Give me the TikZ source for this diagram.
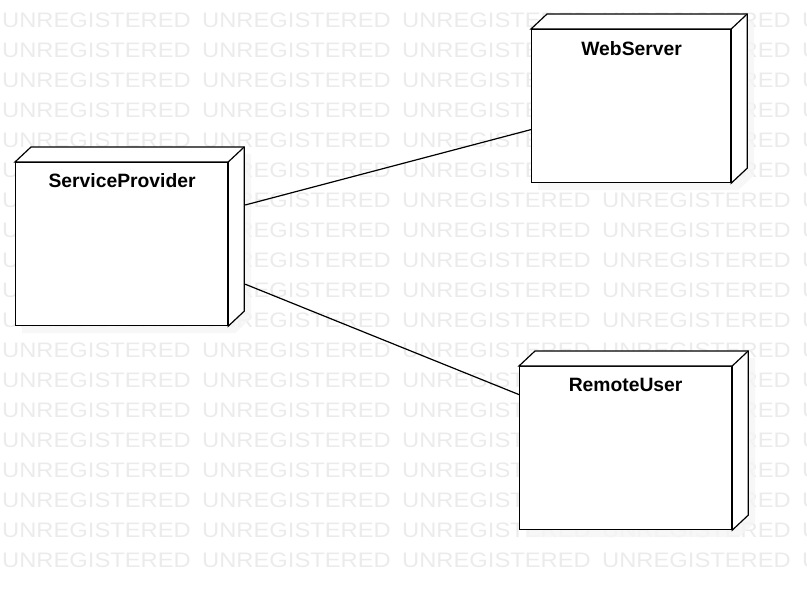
\documentclass[tikz,border=0pt]{standalone}
\usepackage{fontspec}
\setmainfont{Liberation Sans}
\pgfdeclarelayer{wmark}
\pgfdeclarelayer{shade}
\pgfsetlayers{wmark,shade,main}
\begin{document}
\begin{tikzpicture}[x=1pt,y=-1pt,
  devnode/.style={draw,line width=1.2pt,fill=white,anchor=north west,inner sep=0pt},
  faces/.style={draw,line width=1.2pt,fill=white},
  title/.style={inner sep=0pt,font=\fontsize{19.3}{22}\selectfont\bfseries},
  link/.style={draw,line width=1.2pt},
  shade/.style={fill=black!4,opacity=0.8,transform canvas={xshift=7pt,yshift=-7pt}},
  wm/.style={anchor=west,inner sep=0pt,text=black!8,xscale=1.13,font=\fontsize{21}{24}\selectfont}]
\useasboundingbox (0,0) rectangle (807,591);

% watermark
\begin{pgfonlayer}{wmark}
\begin{scope}
\clip (0,0) rectangle (807,591);
\foreach \r in {0,...,18}{
	\foreach \c in {0,...,4}{
		\node[wm] (wm-\r-\c) at (2+200*\c,20.5+30*\r) {UNREGISTERED};}}
\end{scope}
\end{pgfonlayer}

\node[devnode,minimum width=212,minimum height=163] (sp) at (15,162) {};
\node[devnode,minimum width=199,minimum height=153] (ws) at (531,29) {};
\node[devnode,minimum width=212,minimum height=163] (ru) at (519,366) {};

\foreach \n in {sp,ws,ru}{
	\draw[faces] (\n.north west) -- ++(16,-15) -- ([shift={(16,-15)}]\n.north east)
		-- ([shift={(16,-15)}]\n.south east) -- (\n.south east) -- (\n.north east) -- cycle;
	\draw[faces] (\n.north east) -- ++(16,-15);
	\begin{pgfonlayer}{shade}
	\path[shade] (\n.south west) -- (\n.north west) -- ++(16,-15) -- ([shift={(16,-15)}]\n.north east)
		-- ([shift={(16,-15)}]\n.south east) -- (\n.south east) -- cycle;
	\end{pgfonlayer}
}

\node[title] (sp-name) at ([shift={(0.5,18.5)}]sp.north) {ServiceProvider};
\node[title] (ws-name) at ([shift={(0.5,19.5)}]ws.north) {WebServer};
\node[title] (ru-name) at ([shift={(0,18.5)}]ru.north) {RemoteUser};

\draw[link] ([shift={(17,43)}]sp.north east) -- ([shift={(0,23.5)}]ws.west);
\draw[link] ([shift={(17,-42)}]sp.south east) -- ([shift={(0,-53.5)}]ru.west);
\end{tikzpicture}
\end{document}
